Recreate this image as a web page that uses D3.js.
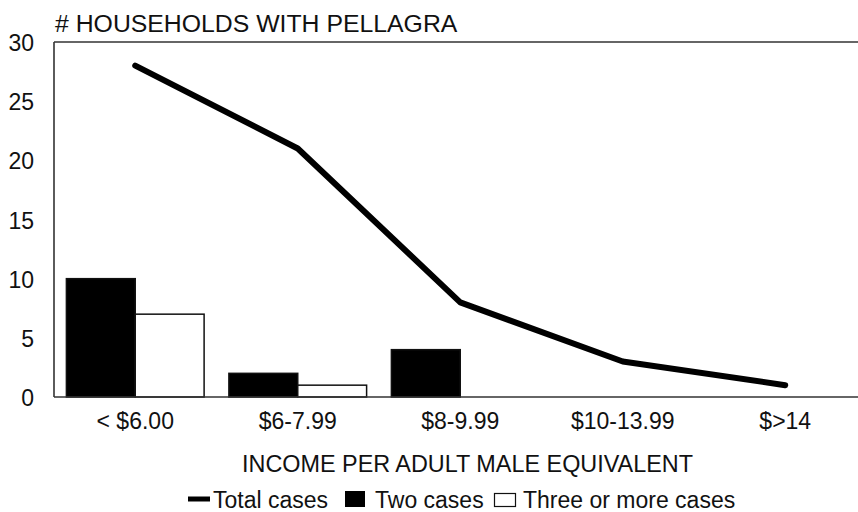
<!DOCTYPE html>
<html>
<head>
<meta charset="utf-8">
<script src="https://cdn.jsdelivr.net/npm/d3@7"></script>
<style>
  body { margin: 0; background: #fff; }
  text { font-family: "Liberation Sans", Arial, sans-serif; fill: #111; }
</style>
</head>
<body>
<div id="chart"></div>
<script>
const categories = ["< $6.00", "$6-7.99", "$8-9.99", "$10-13.99", "$>14"]
const totalCases = [28, 21, 8, 3, 1]
const twoCases = [10, 2, 4, 0, 0]
const threeOrMore = [7, 1, 0, 0, 0]
const yTicks = [0, 5, 10, 15, 20, 25, 30]

const width = 858, height = 512
const plotLeft = 54, plotRight = 866.5, plotTop = 42, plotBottom = 397

const svg = d3.select("#chart")
              .append("svg")
              .attr("width", width)
              .attr("height", height)

const x = d3.scaleBand()
            .domain(categories)
            .range([plotLeft, plotRight])

const sub = d3.scaleBand()
              .domain(["two", "three"])
              .range([0, x.bandwidth()])
              .paddingOuter(0.18)

const y = d3.scaleLinear()
            .domain([0, 30])
            .range([plotBottom, plotTop])

// frame: left axis, top line
svg.append("line")
   .attr("x1", plotLeft).attr("x2", plotLeft)
   .attr("y1", y(30)).attr("y2", y(0))
   .attr("stroke", "#333").attr("stroke-width", 1.6)

svg.append("line")
   .attr("x1", plotLeft).attr("x2", width)
   .attr("y1", y(30)).attr("y2", y(30))
   .attr("stroke", "#333").attr("stroke-width", 1.6)

// y tick labels
svg.append("g")
   .selectAll("text")
   .data(yTicks)
   .enter()
   .append("text")
   .attr("x", 34)
   .attr("y", d => y(d) + 9)
   .attr("text-anchor", "end")
   .attr("font-size", 23)
   .text(d => d)

// bars
const barData = categories.map((c, i) => [
  {cat: c, key: "two", value: twoCases[i]},
  {cat: c, key: "three", value: threeOrMore[i]}
]).flat().filter(d => d.value > 0)

svg.append("g")
   .selectAll("rect")
   .data(barData)
   .enter()
   .append("rect")
   .attr("x", d => x(d.cat) + sub(d.key))
   .attr("y", d => y(d.value))
   .attr("width", sub.bandwidth())
   .attr("height", d => y(0) - y(d.value))
   .attr("fill", d => d.key === "two" ? "#000" : "#fff")
   .attr("stroke", "#111")
   .attr("stroke-width", 1.5)

svg.append("line")
   .attr("x1", plotLeft).attr("x2", width)
   .attr("y1", y(0)).attr("y2", y(0))
   .attr("stroke", "#333").attr("stroke-width", 1.6)

// total cases line
const line = d3.line()
               .x((d, i) => x(categories[i]) + x.bandwidth() / 2)
               .y(d => y(d))

svg.append("path")
   .datum(totalCases)
   .attr("d", line)
   .attr("fill", "none")
   .attr("stroke", "#000")
   .attr("stroke-width", 6)
   .attr("stroke-linecap", "round")
   .attr("stroke-linejoin", "round")

// x tick labels
svg.append("g")
   .selectAll("text")
   .data(categories)
   .enter()
   .append("text")
   .attr("x", d => x(d) + x.bandwidth() / 2)
   .attr("y", 429)
   .attr("text-anchor", "middle")
   .attr("font-size", 23)
   .text(d => d)

// titles
svg.append("text")
   .attr("x", 55)
   .attr("y", 32)
   .attr("font-size", 24.8)
   .text("# HOUSEHOLDS WITH PELLAGRA")

svg.append("text")
   .attr("x", 467.5)
   .attr("y", 472)
   .attr("text-anchor", "middle")
   .attr("font-size", 23.4)
   .text("INCOME PER ADULT MALE EQUIVALENT")

// legend
const legend = svg.append("g")

legend.append("line")
      .attr("x1", 188).attr("x2", 210)
      .attr("y1", 499).attr("y2", 499)
      .attr("stroke", "#000").attr("stroke-width", 5)

legend.append("text")
      .attr("x", 213).attr("y", 508)
      .attr("font-size", 23)
      .text("Total cases")

legend.append("rect")
      .attr("x", 345).attr("y", 491)
      .attr("width", 20).attr("height", 16)
      .attr("fill", "#000")

legend.append("text")
      .attr("x", 375).attr("y", 508)
      .attr("font-size", 23)
      .text("Two cases")

legend.append("rect")
      .attr("x", 494.5).attr("y", 493.5)
      .attr("width", 21).attr("height", 13)
      .attr("fill", "#fff")
      .attr("stroke", "#111")
      .attr("stroke-width", 1.2)

legend.append("text")
      .attr("x", 523).attr("y", 508)
      .attr("font-size", 23)
      .text("Three or more cases")
</script>
</body>
</html>
